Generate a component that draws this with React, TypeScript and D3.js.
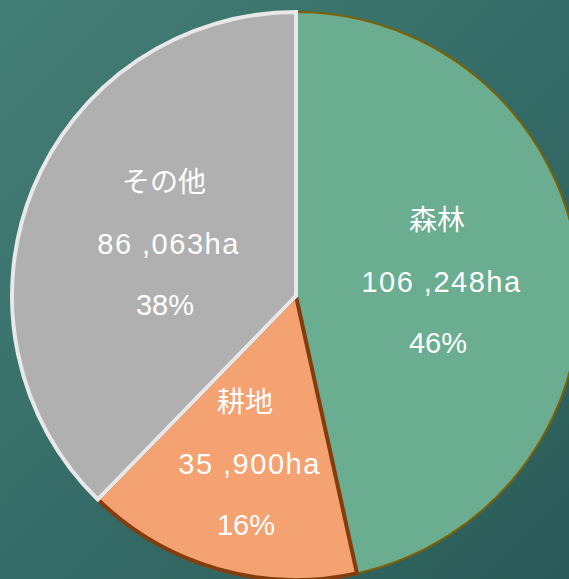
import React from "react";
import * as d3 from "d3";

const categories = ["森林", "耕地", "その他"];
const areas = [106248, 35900, 86063];
const areaLabels = ["106 ,248ha", "35 ,900ha", "86 ,063ha"];
const percentLabels = ["46%", "16%", "38%"];

const fills = ["#6aad90", "#f4a271", "#b0b0b0"];
const strokes = ["#7f6000", "#843c0c", "#e8e8e8"];
const strokeWidths = [2, 4, 4];
// label block centers (middle line), relative to pie center
const labelOffsets: [number, number][] = [
  [145, -15],
  [-47, 167],
  [-128, -53],
];

const W = 569;
const H = 579;
const CX = 296;
const CY = 296;
const R = 284;

export default function App() {
  const pie = d3
    .pie<number>()
    .sort(null)
    .value((d) => d)(areas);
  const arc = d3.arc<d3.PieArcDatum<number>>().innerRadius(0).outerRadius(R);

  return (
    <svg
      width={W}
      height={H}
      style={{ position: "absolute", left: 0, top: 0 }}
      viewBox={`0 0 ${W} ${H}`}
    >
      <defs>
        <linearGradient id="bg" x1="0" y1="0" x2="1" y2="1">
          <stop offset="0" stopColor="#447f76" />
          <stop offset="0.5" stopColor="#356c67" />
          <stop offset="1" stopColor="#2b5b58" />
        </linearGradient>
      </defs>
      <rect x={0} y={0} width={W} height={H} fill="url(#bg)" />
      <g transform={`translate(${CX},${CY})`}>
        {pie.map((p, i) => (
          <path
            key={i}
            d={arc(p) || ""}
            fill={fills[i]}
            stroke={strokes[i]}
            strokeWidth={strokeWidths[i]}
            strokeLinejoin="miter"
          />
        ))}
        {pie.map((p, i) => {
          const [ox, oy] = labelOffsets[i];
          return (
            <g key={"l" + i} fill="#ffffff" textAnchor="middle">
              <text
                x={ox - 4}
                y={oy - 61 + 10}
                fontSize={28}
                fontFamily="'Noto Sans CJK JP', sans-serif"
              >
                {categories[i]}
              </text>
              <text
                x={ox + 0.5}
                y={oy + 10.5}
                fontSize={29}
                fontFamily="'Liberation Sans', Arial, sans-serif"
                letterSpacing={1.5}
              >
                {areaLabels[i]}
              </text>
              <text
                x={ox - 3}
                y={oy + 71.5}
                fontSize={29}
                fontFamily="'Liberation Sans', Arial, sans-serif"
              >
                {percentLabels[i]}
              </text>
            </g>
          );
        })}
      </g>
    </svg>
  );
}
